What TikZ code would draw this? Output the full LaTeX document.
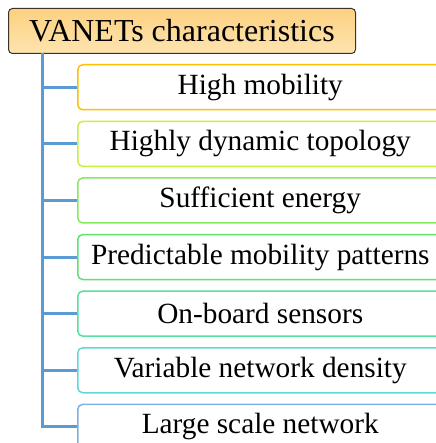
\documentclass[tikz,border=0pt]{standalone}
\usepackage{fontspec}
\setmainfont{Liberation Serif}
\usetikzlibrary{positioning}

\definecolor{rootfill}{RGB}{253,217,142}
\definecolor{rootline}{RGB}{58,51,40}
\definecolor{treeline}{RGB}{91,155,213}
\definecolor{lineA}{RGB}{255,192,0}
\definecolor{lineB}{RGB}{200,240,64}
\definecolor{lineC}{RGB}{136,232,96}
\definecolor{lineD}{RGB}{96,224,112}
\definecolor{lineE}{RGB}{88,224,160}
\definecolor{lineF}{RGB}{96,216,216}
\definecolor{lineG}{RGB}{128,176,224}

\begin{document}
\begin{tikzpicture}[
  node distance=10.1pt,
  root/.style={draw=rootline, line width=1pt, rounded corners=4pt,
    top color=rootfill!90!orange, bottom color=rootfill!70!white,
    minimum height=45pt, minimum width=347pt, anchor=north west,
    font=\fontsize{32}{37}\selectfont},
  item/.style={draw, line width=1.5pt, rounded corners=5pt, fill=white,
    minimum height=45pt, minimum width=365pt, inner sep=0pt,
    font=\fontsize{29.3}{34}\selectfont},
  link/.style={treeline, line width=3pt}
]
\path[use as bounding box] (0,0) rectangle (435pt,-443pt);

\node[root] (head) at (8pt,-8pt) {VANETs characteristics};

\node[item, draw=lineA, anchor=north west] (mob) at (77pt,-64pt) {High mobility};
\node[item, draw=lineB, below=of mob] (topo) {Highly dynamic topology};
\node[item, draw=lineC, below=of topo] (energy) {Sufficient energy};
\node[item, draw=lineD, below=of energy] (pattern) {Predictable mobility patterns};
\node[item, draw=lineE, below=of pattern] (sensor) {On-board sensors};
\node[item, draw=lineF, below=of sensor] (density) {Variable network density};
\node[item, draw=lineG, below=of density] (scale) {Large scale network};

\coordinate (trunk) at (42pt,-53pt);
\draw[link] (trunk) |- (scale.west);
\foreach \n in {mob,topo,energy,pattern,sensor,density}
  \draw[link] (trunk |- \n.west) -- (\n.west);
\end{tikzpicture}
\end{document}
